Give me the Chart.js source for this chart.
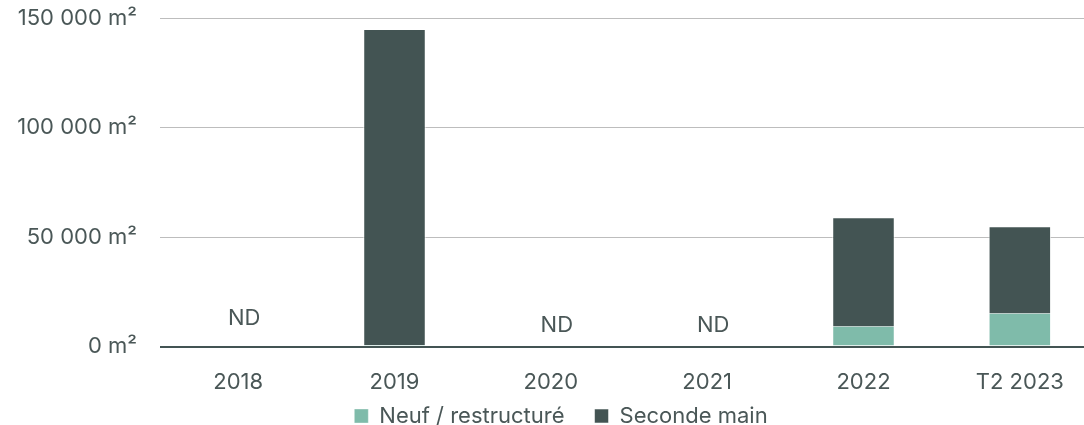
<!DOCTYPE html>
<html>
<head>
<meta charset="utf-8">
<script src="https://cdn.jsdelivr.net/npm/chart.js@4/dist/chart.umd.min.js"></script>
<style>
  html, body { margin: 0; padding: 0; background: #fff; overflow: hidden; }
  #wrap { width: 1098px; height: 425px; }
</style>
</head>
<body>
<div id="wrap"><canvas id="chart"></canvas></div>
<script>
// Surfaces (m²) par année
const categories = ["2018", "2019", "2020", "2021", "2022", "T2 2023"];
const neufValues = [null, 700, null, null, 9150, 15100];
const secondeValues = [null, 144300, null, null, 49850, 39800];
const ndCategories = ["2018", "2020", "2021"];
const yTicks = [0, 50000, 100000, 150000];

const textColor = '#4a5757';
const font = { family: 'Inter, Roboto, sans-serif', size: 22 };

function fmt(v) {
    return String(v).replace(/\B(?=(\d{3})+(?!\d))/g, ' ') + ' m²';
}

// draw "ND" above the empty categories
const ndPlugin = {
    id: 'ndLabels',
    afterDatasetsDraw(chart) {
        const ctx = chart.ctx;
        const x = chart.scales.x, y = chart.scales.y;
        ctx.save();
        ctx.font = font.size + 'px ' + font.family;
        ctx.fillStyle = textColor;
        ctx.textAlign = 'center';
        ctx.textBaseline = 'middle';
        ndCategories.forEach((c, i) => {
            const idx = categories.indexOf(c);
            const lift = i === 0 ? 12800 : 9700;
            ctx.fillText('ND', x.getPixelForValue(idx) + 6, y.getPixelForValue(lift));
        });
        ctx.restore();
    }
};

// keep the legend item spacing but don't let its padding eat the plot height
const legendTight = {
    id: 'legendTight',
    afterInit(chart) {
        const lg = chart.legend;
        const orig = lg.fit;
        lg.fit = function () {
            orig.call(this);
            this.height = 14;
        };
    },
    afterLayout(chart) {
        const lg = chart.legend;
        lg.top -= lg.options.labels.padding + 6;
        lg.bottom = lg.top + lg.options.labels.padding + 40;
        lg.left += 12;
        lg.right += 12;
    }
};

new Chart(document.getElementById('chart'), {
    type: 'bar',
    data: {
        labels: categories,
        datasets: [
            {
                label: 'Neuf / restructuré',
                data: neufValues,
                backgroundColor: '#7fbbaa',
                borderColor: 'rgba(255,255,255,0.7)',
                borderWidth: { top: 0, left: 1, right: 1, bottom: 0 },
                barPercentage: 0.4,
                categoryPercentage: 1.0
            },
            {
                label: 'Seconde main',
                data: secondeValues,
                backgroundColor: '#435453',
                borderColor: 'rgba(255,255,255,0.7)',
                borderWidth: { top: 1, left: 1, right: 1, bottom: 0 },
                barPercentage: 0.4,
                categoryPercentage: 1.0
            }
        ]
    },
    options: {
        responsive: true,
        maintainAspectRatio: false,
        animation: false,
        layout: { padding: { top: 18, bottom: 0 } },
        plugins: {
            legend: {
                position: 'bottom',
                labels: {
                    color: textColor,
                    font: font,
                    boxWidth: 14,
                    boxHeight: 14,
                    padding: 30
                }
            },
            tooltip: { enabled: false }
        },
        scales: {
            x: {
                stacked: true,
                grid: { display: false },
                border: { display: false },
                ticks: { color: textColor, font: font, padding: 15 }
            },
            y: {
                stacked: true,
                min: 0,
                max: 150000,
                afterFit(scale) {
                    scale.width = 160;
                    scale.paddingTop = 0;
                    scale.paddingBottom = 0;
                },
                afterBuildTicks(scale) { scale.ticks = yTicks.map(v => ({ value: v })); },
                grid: {
                    color: ctx => ctx.tick && ctx.tick.value === 0 ? '#435453' : '#bdbdbd',
                    lineWidth: ctx => ctx.tick && ctx.tick.value === 0 ? 2 : 1,
                    drawTicks: false
                },
                border: { display: false },
                ticks: {
                    color: textColor,
                    font: font,
                    padding: 23,
                    callback: v => fmt(v)
                }
            }
        }
    },
    plugins: [ndPlugin, legendTight]
});
</script>
</body>
</html>
